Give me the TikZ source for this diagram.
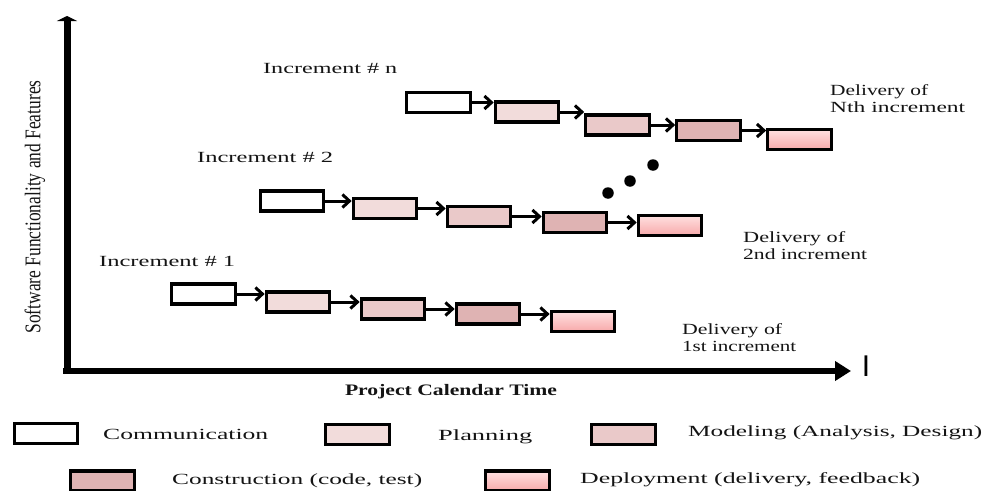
\documentclass[tikz,border=0pt]{standalone}
\usepackage{fontspec}
\setmainfont{Liberation Serif}
\setsansfont{Liberation Sans}
\usetikzlibrary{arrows.meta}

% stretch a text horizontally to a given width, keeping its height
\newcommand{\wtext}[2]{\resizebox{#1pt}{\height}{#2}}

\definecolor{inkc}{HTML}{141414}
\definecolor{planc}{HTML}{F2DCDB}
\definecolor{modelc}{HTML}{EAC9C9}
\definecolor{constc}{HTML}{DFB3B3}
\definecolor{deptop}{HTML}{FFE0E0}
\definecolor{depbot}{HTML}{F7A9AA}

\tikzset{
  stage/.style={draw=black, line width=3.2pt, minimum width=63.5pt, minimum height=20pt, inner sep=0pt},
  comm/.style={stage, fill=white},
  plan/.style={stage, fill=planc},
  model/.style={stage, fill=modelc},
  const/.style={stage, fill=constc},
  deploy/.style={stage, top color=deptop, bottom color=depbot},
  flow/.style={line width=3pt, -{Straight Barb[length=7pt,width=13pt]}},
  lbl/.style={inner sep=0pt, anchor=west, text=inkc, font=\fontsize{15.5}{17}\selectfont},
  leg/.style={inner sep=0pt, anchor=west, text=inkc, font=\fontsize{15.5}{17}\selectfont},
  dot/.style={fill=black, circle, inner sep=0pt, minimum size=11.5pt}
}

\begin{document}
\begin{tikzpicture}[x=1pt, y=-1pt]
  \useasboundingbox (0,0) rectangle (992,490);
  \clip (0,0) rectangle (992,490);

  % axes
  \coordinate (yb) at (67,374);
  \coordinate (yt) at (67,16);
  \coordinate (xl) at (63,371);
  \coordinate (xr) at (851,371);
  \draw[line width=7pt, -{Triangle[length=5pt,width=20pt]}] (yb) -- (yt);
  \draw[line width=6.5pt, -{Triangle[length=16pt,width=19pt]}] (xl) -- (xr);
  \node[inner sep=0pt] (cursor) at (866,366) {\sffamily\fontsize{30}{30}\selectfont I};

  \node[inner sep=0pt, text=inkc, font=\fontsize{16}{17}\selectfont\bfseries] (xlab) at (451,392) {\wtext{212}{Project Calendar Time}};
  \node[inner sep=0pt, text=inkc, rotate=90, font=\fontsize{14}{15}\selectfont] (ylab) at (35,207)
    {\scalebox{1}[1.6]{\wtext{253}{Software Functionality and Features}}};

  % increment 1
  \node[comm]   (a1) at (203.5,294) {};
  \node[plan]   (a2) at (298,302) {};
  \node[model]  (a3) at (393,309) {};
  \node[const]  (a4) at (488,314) {};
  \node[deploy] (a5) at (583,321.5) {};
  \node[lbl] (alab) at (99,261) {\wtext{136}{Increment \# 1}};
  \node[lbl, align=left] (adel) at (682,338) {\wtext{100}{Delivery of}\\\wtext{114}{1st increment}};

  % increment 2
  \node[comm]   (b1) at (292,201) {};
  \node[plan]   (b2) at (385,208.5) {};
  \node[model]  (b3) at (479,216.5) {};
  \node[const]  (b4) at (575,222.5) {};
  \node[deploy] (b5) at (670,225.5) {};
  \node[lbl] (blab) at (197,157) {\wtext{136}{Increment \# 2}};
  \node[lbl, align=left] (bdel) at (743,245.5) {\wtext{102}{Delivery of}\\\wtext{124}{2nd increment}};

  % increment n
  \node[comm]   (c1) at (438.5,102.5) {};
  \node[plan]   (c2) at (527,112) {};
  \node[model]  (c3) at (617.5,125) {};
  \node[const]  (c4) at (708.5,130.5) {};
  \node[deploy] (c5) at (799.5,139.5) {};
  \node[lbl] (clab) at (263,68) {\wtext{134}{Increment \# n}};
  \node[lbl, align=left] (cdel) at (830,98.5) {\wtext{98}{Delivery of}\\\wtext{135}{Nth increment}};

  % flow between stages
  \foreach \r in {a,b,c}{
    \draw[flow] (\r1.east) -- (\r1.east -| \r2.west);
    \draw[flow] (\r2.east) -- (\r2.east -| \r3.west);
    \draw[flow] (\r3.east) -- (\r3.east -| \r4.west);
    \draw[flow] (\r4.east) -- (\r4.east -| \r5.west);
  }

  % ellipsis between increments
  \node[dot] (d1) at (608,193) {};
  \node[dot] (d2) at (630,181) {};
  \node[dot] (d3) at (653,165) {};

  % legend
  \node[comm]   (k1) at (46,433.5) {};
  \node[leg] (k1t) at (103,434) {\wtext{165}{Communication}};
  \node[plan]   (k2) at (357.5,434.5) {};
  \node[leg] (k2t) at (438,437) {\wtext{94}{Planning}};
  \node[model]  (k3) at (623.5,434.5) {};
  \node[leg] (k3t) at (688,433) {\wtext{294}{Modeling (Analysis, Design)}};
  \node[const]  (k4) at (102.5,481) {};
  \node[leg] (k4t) at (172,481) {\wtext{250}{Construction (code, test)}};
  \node[deploy] (k5) at (517.5,481) {};
  \node[leg] (k5t) at (580,480) {\wtext{340}{Deployment (delivery, feedback)}};
\end{tikzpicture}
\end{document}
